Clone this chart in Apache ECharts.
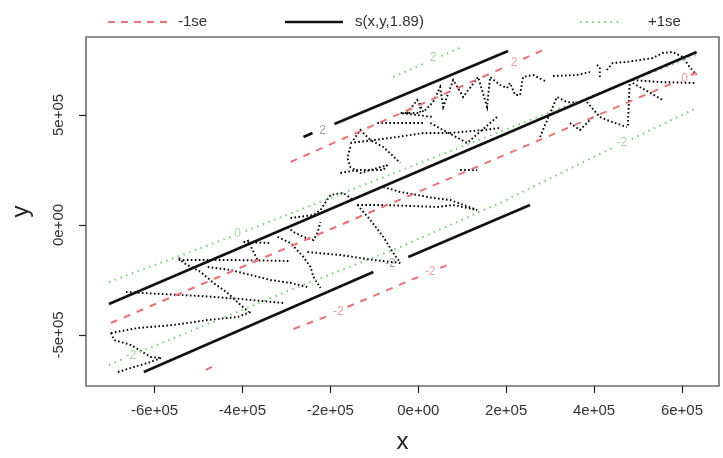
<!DOCTYPE html>
<html><head><meta charset="utf-8">
<script src="https://cdn.jsdelivr.net/npm/echarts@6/dist/echarts.min.js"></script>
<style>html,body{margin:0;padding:0;background:#fff}#c{width:723px;height:458px}</style>
</head><body><div id="c"></div>
<script>
// ---- axis data ----
const xTicks = [-6e5, -4e5, -2e5, 0, 2e5, 4e5, 6e5];
const yTicks = [-5e5, 0, 5e5];
const xRange = [-755.9e3, 684.2e3];
const yRange = [-731.8e3, 854.5e3];

// ---- contour pieces of the fit s(x,y,1.89) ----
const fitPieces = [
  [[-261.1e3, 400e3], [-240.6e3, 418.1e3]],
  [[-190.7e3, 459e3], [204.3e3, 790.8e3]],
  [[-703.7e3, -359.1e3], [633.3e3, 786.3e3]],
  [[-624.3e3, -668.1e3], [-102.2e3, -213.6e3]],
  [[-22.7e3, -145.4e3], [254.2e3, 90.9e3]]
];
const fitLabels = [[-217.9e3, 427.2e3, '2'], [-63.6e3, -177.3e3, '-2']];

// ---- contour pieces of fit - 1se ----
const minusPieces = [
  [[-290.6e3, 286.3e3], [197.5e3, 718.1e3]],
  [[238.4e3, 754.5e3], [283.8e3, 795.4e3]],
  [[-699.2e3, -445.4e3], [590.2e3, 654.5e3]],
  [[619.7e3, 681.8e3], [633.3e3, 690.8e3]],
  [[-483.5e3, -659e3], [-465.4e3, -640.8e3]],
  [[-283.8e3, -472.7e3], [-199.8e3, -409e3]],
  [[-161.2e3, -372.7e3], [0, -236.3e3]],
  [[49.9e3, -195.4e3], [72.6e3, -177.3e3]]
];
const minusLabels = [[217.9e3, 736.3e3, '2'], [606.1e3, 663.6e3, '0'], [-181.6e3, -395.4e3, '-2'], [27.2e3, -213.6e3, '-2']];

// ---- contour pieces of fit + 1se ----
const plusPieces = [
  [[-56.8e3, 672.7e3], [15.9e3, 736.3e3]],
  [[52.2e3, 768.1e3], [99.9e3, 809e3]],
  [[-703.7e3, -259.1e3], [-426.8e3, -54.5e3]],
  [[-392.7e3, -27.3e3], [633.3e3, 772.7e3]],
  [[-703.7e3, -636.3e3], [-671.9e3, -609e3]],
  [[-633.3e3, -577.2e3], [-290.6e3, -295.4e3], [-40.9e3, -100e3], [186.1e3, 100e3], [440.4e3, 350e3]],
  [[485.8e3, 390.9e3], [633.3e3, 531.8e3]]
];
const plusLabels = [[34e3, 759e3, '2'], [-410.9e3, -40.9e3, '0'], [-653.8e3, -595.4e3, '-2'], [463.1e3, 372.7e3, '-2']];

// ---- observed (x,y) locations, drawn as dotted tracks ----
const tracks = [
  [[-699.2e3,-490.9e3],[-637.9e3,-468.1e3],[-556.2e3,-454.5e3],[-479e3,-431.8e3],[-410.9e3,-418.1e3],[-381.4e3,-395.4e3]],
  [[-699.2e3,-490.9e3],[-692.4e3,-522.7e3],[-653.8e3,-545.4e3],[-608.4e3,-600e3],[-585.7e3,-604.5e3]],
  [[-683.3e3,-668.1e3],[-647e3,-645.4e3],[-615.2e3,-627.2e3],[-585.7e3,-604.5e3]],
  [[-665.1e3,-304.5e3],[-585.7e3,-313.6e3],[-494.9e3,-322.7e3],[-404.1e3,-336.3e3],[-306.5e3,-354.5e3]],
  [[-544.8e3,-150e3],[-533.5e3,-172.7e3],[-494.9e3,-213.6e3],[-465.4e3,-263.6e3],[-433.6e3,-309.1e3],[-404.1e3,-363.6e3],[-385.9e3,-395.4e3]],
  [[-544.8e3,-159.1e3],[-426.8e3,-159.1e3],[-290.6e3,-163.6e3]],
  [[-479e3,-190.9e3],[-426.8e3,-204.5e3],[-381.4e3,-227.3e3],[-336e3,-250e3],[-290.6e3,-263.6e3],[-252e3,-281.8e3]],
  [[-388.2e3,-68.2e3],[-365.5e3,-159.1e3]],
  [[-397.3e3,-77.3e3],[-336e3,-81.8e3]],
  [[-320.1e3,-54.5e3],[-290.6e3,-81.8e3],[-261.1e3,-145.4e3],[-245.2e3,-190.9e3],[-238.4e3,-236.3e3],[-222.5e3,-286.3e3]],
  [[-252e3,-122.7e3],[-177.1e3,-136.4e3],[-102.2e3,-159.1e3],[-40.9e3,-172.7e3]],
  [[-138.5e3,90.9e3],[-109e3,22.7e3],[-79.5e3,-54.5e3],[-56.8e3,-127.3e3],[-40.9e3,-172.7e3]],
  [[-138.5e3,90.9e3],[-79.5e3,90.9e3],[-18.2e3,86.4e3],[43.1e3,81.8e3],[79.5e3,90.9e3],[133.9e3,68.2e3]],
  [[-79.5e3,172.7e3],[-40.9e3,150e3],[-2.3e3,136.4e3],[34e3,122.7e3],[72.6e3,113.6e3],[133.9e3,68.2e3]],
  [[-297.4e3,-9.1e3],[-283.8e3,-31.8e3],[-261.1e3,-54.5e3],[-238.4e3,-68.2e3],[-229.3e3,-36.4e3],[-222.5e3,13.6e3]],
  [[-290.6e3,31.8e3],[-238.4e3,45.5e3],[-222.5e3,68.2e3],[-199.8e3,136.4e3],[-170.3e3,145.4e3],[-147.6e3,113.6e3]],
  [[-177.1e3,236.3e3],[-138.5e3,250e3],[-79.5e3,250e3],[-70.4e3,272.7e3]],
  [[-154.4e3,354.5e3],[-161.2e3,304.5e3],[-154.4e3,263.6e3],[-131.7e3,236.3e3],[-93.1e3,259.1e3],[-70.4e3,272.7e3]],
  [[-147.6e3,386.3e3],[-131.7e3,431.8e3],[-109e3,386.3e3],[-79.5e3,354.5e3],[-47.7e3,295.4e3],[-40.9e3,281.8e3]],
  [[-93.1e3,463.6e3],[11.4e3,463.6e3]],
  [[-154.4e3,372.7e3],[-47.7e3,400e3],[11.4e3,418.1e3],[72.6e3,418.1e3],[147.6e3,431.8e3],[186.1e3,440.9e3]],
  [[4.5e3,554.5e3],[4.5e3,509e3],[-40.9e3,509e3],[34e3,490.9e3]],
  [[27.2e3,463.6e3],[111.2e3,372.7e3],[179.3e3,490.9e3]],
  [[95.3e3,250e3],[133.9e3,250e3]],
  [[-25e3,509e3],[-2.3e3,568.1e3],[11.4e3,513.6e3],[34e3,559e3],[49.9e3,627.2e3],[56.8e3,536.3e3],[79.5e3,659e3],[102.2e3,581.8e3],[122.6e3,636.3e3],[136.2e3,672.7e3],[156.6e3,536.3e3],[163.4e3,672.7e3],[186.1e3,636.3e3],[202e3,622.7e3],[208.8e3,645.4e3],[220.2e3,590.9e3],[231.5e3,590.9e3],[238.4e3,672.7e3],[261.1e3,681.8e3],[283.8e3,659e3],[292.8e3,649.9e3]],
  [[306.5e3,677.2e3],[360.9e3,681.8e3],[390.4e3,695.4e3]],
  [[406.3e3,727.2e3],[413.1e3,718.1e3],[413.1e3,668.1e3]],
  [[429e3,704.5e3],[442.7e3,736.3e3],[474.4e3,740.8e3],[503.9e3,749.9e3],[533.5e3,759e3],[556.2e3,781.7e3],[578.9e3,786.3e3],[601.6e3,763.6e3],[617.4e3,718.1e3],[633.3e3,681.8e3]],
  [[481.2e3,659e3],[476.7e3,440.9e3]],
  [[488e3,659e3],[549.3e3,649.9e3],[633.3e3,645.4e3]],
  [[488e3,645.4e3],[556.2e3,568.1e3]],
  [[276.9e3,400e3],[315.5e3,581.8e3],[338.2e3,559e3],[367.7e3,554.5e3]],
  [[383.6e3,559e3],[413.1e3,490.9e3],[429e3,477.2e3],[474.4e3,445.4e3]],
  [[345e3,463.6e3],[367.7e3,431.8e3],[397.3e3,490.9e3]]
];

const FONT = "'Liberation Sans', Arial, Helvetica, sans-serif";
function fmt(v) {
  return Number(v).toExponential(0).replace(/e([+-])(\d)$/, 'e$10$2');
}
function linesSeries(pieces, style, z) {
  return { type: 'lines', coordinateSystem: 'cartesian2d', polyline: true, silent: true, z: z,
    data: pieces.map(p => ({ coords: p })), lineStyle: style };
}
function labelSeries(labels, color) {
  return { type: 'scatter', symbolSize: 1, silent: true, z: 10, itemStyle: { color: 'rgba(0,0,0,0)' },
    data: labels.map(l => ({ value: [l[0], l[1]], name: l[2] })),
    label: { show: true, position: 'inside', formatter: '{b}', color: color, fontSize: 12, fontFamily: FONT } };
}

const chart = echarts.init(document.getElementById('c'), null, { renderer: 'canvas' });
chart.setOption({
  animation: false,
  backgroundColor: '#fff',
  grid: { left: 86, right: 4, top: 37, bottom: 72, containLabel: false, outerBoundsMode: 'none',
    show: true, borderColor: '#6e6e6e', borderWidth: 1.6, backgroundColor: 'transparent' },
  xAxis: {
    type: 'value', min: xRange[0], max: xRange[1],
    splitLine: { show: false }, axisLine: { show: false, onZero: false },
    axisTick: { show: true, length: 7, customValues: xTicks, lineStyle: { color: '#222', width: 1.2 } },
    axisLabel: { customValues: xTicks, formatter: fmt, fontSize: 15, color: '#333', margin: 17, fontFamily: FONT },
    name: 'x', nameLocation: 'middle', nameGap: 44, nameTextStyle: { fontSize: 24, color: '#222', fontFamily: FONT }
  },
  yAxis: {
    type: 'value', min: yRange[0], max: yRange[1],
    splitLine: { show: false }, axisLine: { show: false, onZero: false },
    axisTick: { show: true, length: 7, customValues: yTicks, lineStyle: { color: '#222', width: 1.2 } },
    axisLabel: { customValues: yTicks, formatter: fmt, rotate: 90, fontSize: 15, color: '#333', margin: 20, fontFamily: FONT },
    name: 'y', nameLocation: 'middle', nameGap: 53, nameRotate: 90, nameTextStyle: { fontSize: 24, color: '#222', fontFamily: FONT }
  },
  series: [
    linesSeries(tracks, { color: '#000', width: 1.9, type: [1.6, 2.4], opacity: 1 }, 3),
    linesSeries(plusPieces, { color: '#7fcf7f', width: 2, type: [1.6, 4.5], opacity: 1 }, 4),
    linesSeries(minusPieces, { color: '#e8737a', width: 2, type: [7, 7], opacity: 1 }, 5),
    linesSeries(fitPieces, { color: '#111', width: 2.6, type: 'solid', opacity: 1 }, 6),
    labelSeries(fitLabels, '#8a8a8a'),
    labelSeries(minusLabels, '#e8838a'),
    labelSeries(plusLabels, '#8fd08f')
  ],
  graphic: [
    { type: 'line', shape: { x1: 108, y1: 22, x2: 168, y2: 22 }, style: { stroke: '#e8737a', lineWidth: 2, lineDash: [7, 6] } },
    { type: 'text', x: 178, y: 22, style: { text: '-1se', fill: '#333', font: '15px ' + FONT, verticalAlign: 'middle' } },
    { type: 'line', shape: { x1: 285, y1: 22, x2: 343, y2: 22 }, style: { stroke: '#111', lineWidth: 2.6 } },
    { type: 'text', x: 355, y: 22, style: { text: 's(x,y,1.89)', fill: '#333', font: '15px ' + FONT, verticalAlign: 'middle' } },
    { type: 'line', shape: { x1: 580, y1: 22, x2: 620, y2: 22 }, style: { stroke: '#7fcf7f', lineWidth: 2, lineDash: [1.6, 4.5] } },
    { type: 'text', x: 648, y: 22, style: { text: '+1se', fill: '#333', font: '15px ' + FONT, verticalAlign: 'middle' } }
  ]
});
</script></body></html>
